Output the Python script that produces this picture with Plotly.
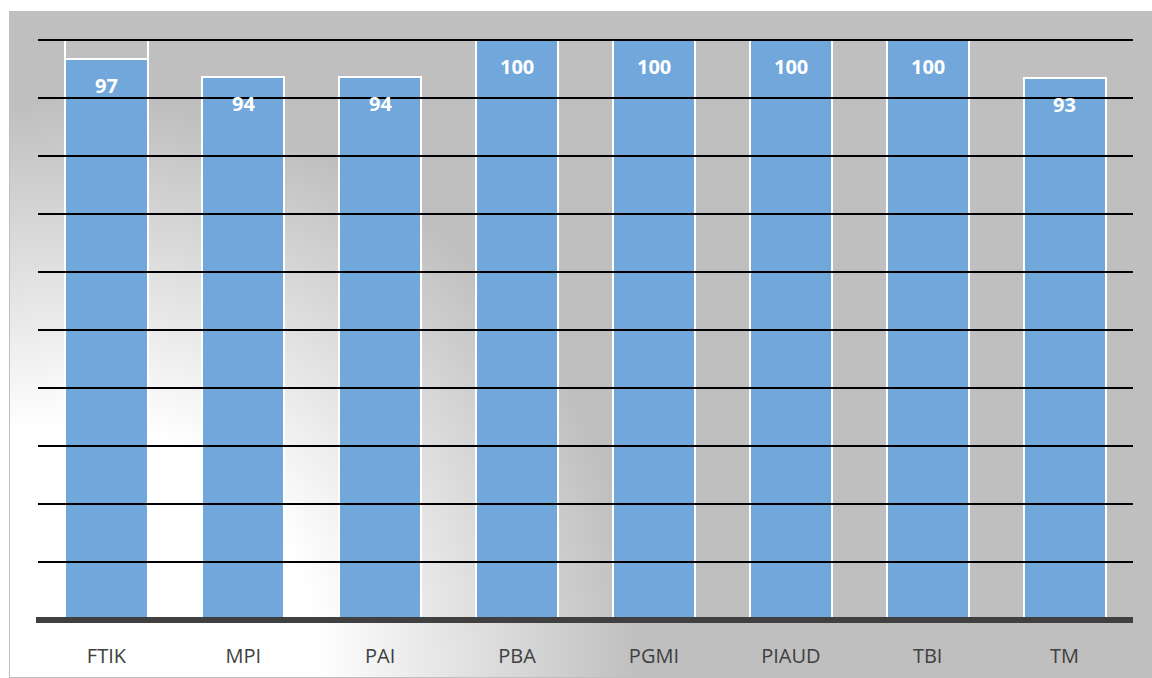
import base64
import plotly.graph_objects as go

categories = ["FTIK", "MPI", "PAI", "PBA", "PGMI", "PIAUD", "TBI", "TM"]
values = [96.7, 93.6, 93.6, 100, 100, 100, 100, 93.4]
labels = ["97", "94", "94", "100", "100", "100", "100", "93"]
outline_rest = [3.3, None, None, None, None, None, None, None]
gridline_values = [10, 20, 30, 40, 50, 60, 70, 80, 90, 100]
y_max = 100

W, H = 1152, 678
L, R, T, B = 38, 19, 40, 58
PW, PH = W - L - R, H - T - B

# background gradient (SVG)
bx, by = 9, 11
bw, bh = W - bx, H - by
svg = f'''<svg xmlns="http://www.w3.org/2000/svg" width="{bw}" height="{bh}" viewBox="0 0 {bw} {bh}" preserveAspectRatio="none">
<defs><radialGradient id="g" gradientUnits="userSpaceOnUse" cx="{80-bx}" cy="{660-by}" r="560">
<stop offset="0.42" stop-color="#FFFFFF"/><stop offset="1" stop-color="#BFBFBF"/></radialGradient></defs>
<rect x="0.5" y="0.5" width="{bw-1}" height="{bh-1}" fill="url(#g)" stroke="#BFBFBF" stroke-width="1"/>
</svg>'''
src = "data:image/svg+xml;base64," + base64.b64encode(svg.encode()).decode()

fig = go.Figure()
fig.add_trace(go.Bar(
    x=categories, y=values, width=0.6,
    marker=dict(color="#71A7DA", line=dict(color="#FFFFFF", width=2)),
    hoverinfo="skip",
))
fig.add_trace(go.Bar(
    x=categories, y=outline_rest, width=0.6,
    marker=dict(color="rgba(0,0,0,0)", line=dict(color="#FFFFFF", width=2)),
    hoverinfo="skip",
))

for c, v, t in zip(categories, values, labels):
    fig.add_annotation(x=c, y=v, text=f"<b>{t}</b>", showarrow=False,
                       yanchor="middle", yshift=-26,
                       font=dict(family="Open Sans", size=20, color="#FFFFFF"))

for g in gridline_values:
    fig.add_shape(type="line", xref="paper", yref="paper", x0=0, x1=1,
                  y0=g / y_max, y1=g / y_max,
                  line=dict(color="#000000", width=2), layer="above")
fig.add_shape(type="line", xref="paper", yref="paper", x0=-2 / PW, x1=1, y0=0, y1=0,
              line=dict(color="#404040", width=6), layer="above")

fig.add_layout_image(dict(
    source=src, xref="paper", yref="paper",
    x=(bx - L) / PW, y=(H - B - by) / PH,
    sizex=bw / PW, sizey=bh / PH,
    xanchor="left", yanchor="top", sizing="stretch", layer="below",
))

fig.update_layout(
    width=W, height=H, autosize=False,
    margin=dict(l=L, r=R, t=T, b=B, pad=0, autoexpand=False),
    paper_bgcolor="#FFFFFF", plot_bgcolor="rgba(0,0,0,0)",
    barmode="stack", bargap=0.4, showlegend=False,
    xaxis=dict(showgrid=False, zeroline=False, showline=False, automargin=False,
               ticks="outside", ticklen=18, tickcolor="rgba(0,0,0,0)",
               tickfont=dict(family="Open Sans", size=20, color="#404040")),
    yaxis=dict(range=[0, y_max], showgrid=False, zeroline=False, showline=False,
               automargin=False, showticklabels=False, ticks=""),
)

fig.write_html("out.html", config={"responsive": False},
               default_width=f"{W}px", default_height=f"{H}px")
